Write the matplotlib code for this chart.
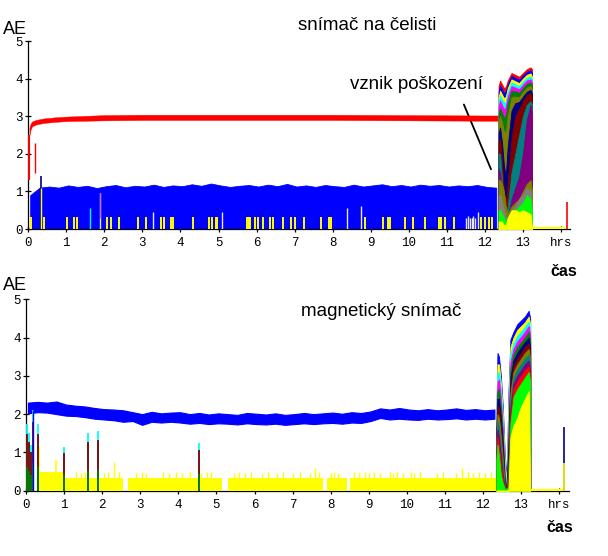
import numpy as np
import matplotlib
matplotlib.use("Agg")
import matplotlib.pyplot as plt

plt.rcParams['font.family'] = ['Liberation Sans', 'DejaVu Sans']

# ---------------------------
# data
# ---------------------------
tick_pos = list(range(14)) + [14]
tick_lab = [str(i) for i in range(14)] + ['hrs']

# top panel (snimac na celisti)
red_x = [0.03, 0.06, 0.1, 0.2, 0.4, 0.7, 1, 1.5, 2, 3, 4, 6, 8, 10, 12, 12.38]
red_lo = [2.48, 2.64, 2.73, 2.78, 2.82, 2.85, 2.87, 2.88, 2.89, 2.90, 2.90, 2.90, 2.90, 2.89, 2.88, 2.88]
red_hi = [2.70, 2.80, 2.86, 2.90, 2.94, 2.97, 2.99, 3.01, 3.03, 3.04, 3.04, 3.04, 3.04, 3.03, 3.02, 3.02]

blue_top_x = np.arange(0, 12.3, 0.25)
blue_top_hi = [0.90, 1.10, 1.13, 1.10, 1.16, 1.12, 1.15, 1.09, 1.14, 1.17,
               1.11, 1.15, 1.13, 1.18, 1.12, 1.16, 1.14, 1.19, 1.15, 1.21,
               1.16, 1.12, 1.15, 1.17, 1.13, 1.18, 1.14, 1.20, 1.13, 1.16,
               1.12, 1.17, 1.14, 1.12, 1.18, 1.13, 1.16, 1.19, 1.14, 1.17,
               1.13, 1.18, 1.15, 1.17, 1.13, 1.16, 1.14, 1.17, 1.12, 1.10]

top_yellow_x = [0.06, 0.42, 1.01, 1.2, 1.28, 2.06, 2.17, 2.38, 2.88, 3.09, 3.49, 3.57,
                3.75, 3.8, 4.32, 4.75, 4.82, 4.93, 4.97, 5.74, 5.77, 5.8, 5.83, 5.96,
                6.05, 6.18, 6.34, 6.42, 6.7, 6.9, 7.0, 7.25, 7.69, 7.9, 7.96, 8.85,
                9.31, 9.45, 9.5, 9.91, 10.12, 10.43, 10.8, 10.86, 10.94, 11.2, 11.9,
                12.0, 12.1, 12.2]
top_grey_x = [1.88, 3.27, 5.1, 8.37, 8.74, 11.5, 11.55, 11.6, 11.65, 11.7, 11.75, 11.82]
top_grey_h = [0.95, 0.45, 0.45, 0.55, 0.6, 0.3, 0.35, 0.3, 0.3, 0.35, 0.3, 0.45]

top_cx = [12.36, 12.40, 12.45, 12.50, 12.55, 12.60, 12.70, 12.80, 12.90, 13.00, 13.10, 13.20, 13.24]
top_curves = [
    ('#ff0000', [3.80, 3.95, 3.85, 3.75, 3.78, 3.95, 4.15, 4.10, 4.05, 4.15, 4.25, 4.30, 4.25]),
    ('#0000ff', [3.65, 3.82, 3.72, 3.62, 3.66, 3.85, 4.07, 4.02, 3.97, 4.08, 4.18, 4.22, 4.15]),
    ('#ffff00', [3.50, 3.68, 3.58, 3.48, 3.52, 3.75, 3.98, 3.93, 3.88, 4.00, 4.10, 4.14, 4.05]),
    ('#00ffff', [3.38, 3.55, 3.45, 3.35, 3.40, 3.65, 3.90, 3.85, 3.80, 3.92, 4.02, 4.06, 3.98]),
    ('#ff00ff', [3.25, 3.42, 3.30, 3.18, 3.25, 3.52, 3.80, 3.76, 3.72, 3.84, 3.95, 3.98, 3.90]),
    ('#008000', [3.05, 3.22, 3.10, 2.95, 3.02, 3.35, 3.68, 3.66, 3.62, 3.75, 3.86, 3.90, 3.80]),
    ('#808000', [2.85, 3.00, 2.85, 2.60, 2.55, 3.00, 3.50, 3.52, 3.50, 3.64, 3.76, 3.80, 3.70]),
    ('#000080', [2.55, 2.70, 2.30, 1.70, 1.40, 2.20, 3.15, 3.35, 3.38, 3.52, 3.65, 3.70, 3.60]),
    ('#800000', [2.30, 2.40, 1.80, 1.00, 0.70, 1.20, 2.40, 3.00, 3.20, 3.40, 3.55, 3.62, 3.50]),
    ('#008080', [2.00, 2.00, 1.30, 0.50, 0.30, 0.60, 1.50, 2.00, 2.50, 3.00, 3.30, 3.40, 3.30]),
    ('#800080', [1.60, 1.50, 0.90, 0.30, 0.20, 0.30, 0.80, 1.10, 1.40, 2.00, 2.90, 3.30, 3.10]),
    ('#808000', [1.30, 1.30, 1.20, 1.00, 0.60, 0.40, 0.60, 0.70, 0.80, 1.00, 1.20, 1.30, 1.00]),
    ('#808080', [0.90, 0.90, 0.70, 0.50, 0.30, 0.30, 0.50, 0.60, 0.80, 0.90, 1.10, 1.00, 0.60]),
    ('#00ff00', [0.50, 0.50, 0.40, 0.30, 0.20, 0.30, 0.40, 0.50, 0.60, 0.70, 0.90, 0.80, 0.40]),
    ('#ffff00', [0.20, 0.20, 0.20, 0.10, 0.10, 0.30, 0.50, 0.50, 0.45, 0.50, 0.45, 0.40, 0.00]),
]

# bottom panel (magneticky snimac)
bb_x = np.arange(0.05, 12.35, 0.25)
bb_hi = [2.30, 2.32, 2.30, 2.33, 2.25, 2.22, 2.20, 2.16, 2.13, 2.12,
         2.10, 2.05, 2.00, 2.06, 2.02, 2.04, 2.05, 2.00, 2.03, 1.99,
         2.02, 2.00, 1.98, 2.03, 2.01, 1.99, 2.02, 1.98, 2.00, 2.03,
         2.00, 2.02, 2.04, 2.01, 2.05, 2.03, 2.07, 2.15, 2.12, 2.16,
         2.12, 2.10, 2.13, 2.10, 2.12, 2.15, 2.11, 2.13, 2.10, 2.12]
bb_lo = [2.02, 2.05, 2.04, 2.00, 1.96, 1.95, 1.92, 1.88, 1.86, 1.84,
         1.80, 1.82, 1.72, 1.80, 1.78, 1.80, 1.78, 1.75, 1.77, 1.74,
         1.76, 1.75, 1.73, 1.76, 1.74, 1.73, 1.75, 1.72, 1.74, 1.76,
         1.74, 1.76, 1.77, 1.75, 1.78, 1.77, 1.82, 1.90, 1.86, 1.88,
         1.86, 1.85, 1.88, 1.86, 1.87, 1.89, 1.86, 1.88, 1.86, 1.88]

yellow_seg = [(0.35, 2.55), (2.68, 5.14), (5.31, 7.8), (7.9, 8.42), (8.52, 12.36)]
yellow_base = 0.32
yellow_spike_x = [1.3, 1.45, 1.55, 2.05, 2.15, 2.3, 2.45, 2.9, 3.05, 3.15, 3.6, 3.75,
                  3.95, 4.1, 4.3, 4.6, 4.75, 4.85, 5.45, 5.6, 5.75, 5.9, 6.2, 6.35,
                  6.6, 6.75, 7.0, 7.2, 7.45, 7.6, 7.7, 8.0, 8.1, 8.2, 8.6, 8.75, 8.9,
                  9.0, 9.15, 9.3, 9.55, 9.65, 9.75, 9.9, 10.1, 10.2, 10.35, 10.8,
                  10.95, 11.3, 11.45, 11.6, 11.75, 11.9, 12.05, 12.2]
yellow_spike_h = [0.5, 0.45, 0.5, 0.45, 0.5, 0.75, 0.5, 0.45, 0.5, 0.45, 0.5, 0.45,
                  0.5, 0.45, 0.5, 0.45, 0.5, 0.5, 0.45, 0.5, 0.45, 0.5, 0.45, 0.5,
                  0.45, 0.5, 0.45, 0.5, 0.45, 0.6, 0.5, 0.45, 0.5, 0.45, 0.5, 0.45,
                  0.5, 0.45, 0.5, 0.45, 0.5, 0.45, 0.5, 0.45, 0.5, 0.45, 0.5, 0.45,
                  0.5, 0.45, 0.6, 0.5, 0.45, 0.5, 0.45, 0.5]
# early multi coloured spikes: x, height
bot_spike_x = [0.03, 0.08, 0.13, 0.18, 0.32, 1.0, 1.64, 1.9, 4.54]
bot_spike_h = [1.75, 1.5, 1.2, 2.1, 1.75, 1.15, 1.5, 1.55, 1.24]

bot_cx = [12.35, 12.38, 12.42, 12.47, 12.52, 12.57, 12.62, 12.67, 12.72, 12.80, 12.90, 13.00, 13.10, 13.20, 13.24]
bot_curves = [
    ('#0000ff', [1.90, 3.60, 3.50, 3.00, 2.20, 1.00, 0.30, 2.60, 3.95, 4.15, 4.35, 4.45, 4.55, 4.70, 4.50]),
    ('#ffff00', [1.80, 3.30, 3.30, 2.80, 2.00, 0.80, 0.20, 2.30, 3.75, 4.00, 4.20, 4.30, 4.40, 4.55, 4.35]),
    ('#00ffff', [1.70, 3.05, 3.10, 2.60, 1.80, 0.60, 0.15, 2.00, 3.55, 3.85, 4.05, 4.15, 4.28, 4.42, 4.20]),
    ('#ff00ff', [1.60, 2.85, 2.90, 2.40, 1.60, 0.40, 0.10, 1.70, 3.35, 3.70, 3.90, 4.02, 4.15, 4.30, 4.05]),
    ('#008000', [1.50, 2.60, 2.65, 2.15, 1.40, 0.30, 0.10, 1.40, 3.15, 3.55, 3.75, 3.88, 4.00, 4.15, 3.90]),
    ('#000080', [1.40, 2.40, 2.40, 1.90, 1.20, 0.20, 0.05, 1.10, 2.95, 3.40, 3.60, 3.75, 3.88, 4.00, 3.75]),
    ('#800000', [1.30, 2.20, 2.15, 1.65, 1.00, 0.15, 0.05, 0.80, 2.75, 3.25, 3.45, 3.60, 3.75, 3.85, 3.60]),
    ('#808000', [1.20, 2.00, 1.90, 1.40, 0.80, 0.10, 0.05, 0.60, 2.55, 3.10, 3.30, 3.45, 3.60, 3.70, 3.45]),
    ('#008080', [1.10, 1.80, 1.65, 1.15, 0.60, 0.10, 0.05, 0.40, 2.35, 2.95, 3.15, 3.30, 3.45, 3.55, 3.30]),
    ('#800080', [1.00, 1.60, 1.40, 0.90, 0.40, 0.05, 0.05, 0.30, 2.15, 2.80, 3.00, 3.15, 3.30, 3.40, 3.15]),
    ('#ff0000', [0.90, 1.40, 1.15, 0.65, 0.30, 0.05, 0.05, 0.20, 1.95, 2.65, 2.85, 3.00, 3.15, 3.25, 3.00]),
    ('#00ff00', [0.80, 1.20, 0.90, 0.40, 0.20, 0.05, 0.05, 0.10, 1.75, 2.45, 2.65, 2.80, 2.95, 3.10, 2.85]),
    ('#ffff00', [0.00, 0.00, 0.00, 0.00, 0.00, 0.00, 0.00, 0.00, 1.40, 1.70, 1.90, 2.20, 2.40, 2.60, 0.00]),
]


def style_axes(ax):
    ax.set_xlim(0, 14.25)
    ax.set_ylim(0, 5)
    for s in ['top', 'right']:
        ax.spines[s].set_visible(False)
    for s in ['left', 'bottom']:
        ax.spines[s].set_linewidth(0.9)
    ax.set_xticks(tick_pos)
    ax.set_xticklabels(tick_lab)
    ax.set_yticks(range(6))
    ax.tick_params(direction='inout', length=5, width=0.9, labelsize=9)
    ax.tick_params(axis='x', pad=3.5)
    ax.tick_params(axis='y', pad=1.5)
    for lab in ax.get_xticklabels() + ax.get_yticklabels():
        lab.set_family('Liberation Mono')


fig = plt.figure(figsize=(6.08, 5.56), dpi=100)

# --------- top panel ---------
ax1 = fig.add_axes([0.0465, 0.5881, 0.8918, 0.3381])
style_axes(ax1)

ax1.fill_between(blue_top_x + 0.05, 0, blue_top_hi, color='#0000ff', lw=0.6, zorder=2)
ax1.vlines(0.33, 0, 1.4, color='#000080', lw=1.2, zorder=3)
ax1.vlines(top_yellow_x, 0, 0.32, color='#ffff00', lw=1.4, zorder=3)
ax1.vlines(top_grey_x, 0, top_grey_h, color='#e8e8e8', lw=1.0, zorder=3)
ax1.vlines([0.33], 0, 1.1, color='#ffff00', lw=1.0, zorder=3)
ax1.vlines([1.62], 0, 0.55, color='#00ffff', lw=1.0, zorder=3)
ax1.vlines([1.88], 0.3, 0.95, color='#cc66cc', lw=0.8, zorder=3)

ax1.fill_between(red_x, red_lo, red_hi, color='#ff0000', lw=0.3, zorder=4)
ax1.vlines(0.01, 1.3, 2.5, color='#ff0000', lw=1.5, zorder=4)
ax1.vlines(0.17, 1.5, 2.3, color='#ff0000', lw=1.0, zorder=4)

for col, vals in top_curves:
    ax1.fill_between(top_cx, 0, vals, color=col, lw=0.6, zorder=5)

ax1.hlines(0.03, 13.25, 14.1, color='#ffff00', lw=1.5, zorder=5)
ax1.vlines(14.16, 0, 0.73, color='#ff0000', lw=1.2, zorder=5)

ax1.annotate('', xy=(12.19, 1.52), xytext=(11.42, 3.38),
             arrowprops=dict(arrowstyle='-', color='black', lw=1.3))

# --------- bottom panel ---------
ax2 = fig.add_axes([0.0428, 0.1175, 0.8925, 0.3442])
style_axes(ax2)

ax2.fill_between(bb_x, bb_lo, bb_hi, color='#0000ff', lw=0.8, zorder=2)

for a, b in yellow_seg:
    ax2.fill_between([a, b], 0, yellow_base, color='#ffff00', lw=0, zorder=3)
ax2.fill_between([0.37, 1.0], 0, 0.5, color='#ffff00', lw=0, zorder=3)
ax2.vlines(yellow_spike_x, 0, yellow_spike_h, color='#ffff00', lw=1.0, zorder=3)
ax2.vlines([0.35, 0.8, 1.0], 0, [1.15, 0.8, 1.15], color='#ffff00', lw=1.2, zorder=3)

for xs, h in zip(bot_spike_x, bot_spike_h):
    ax2.vlines(xs, 0, h, color='#00ffff', lw=1.3, zorder=4)
    ax2.vlines(xs, 0, h * 0.85, color='#800000', lw=1.3, zorder=4)
    ax2.vlines(xs, 0, h * 0.35, color='#008000', lw=1.3, zorder=4)
ax2.vlines(0.18, 0, 2.1, color='#0000ff', lw=1.0, zorder=4)

for col, vals in bot_curves:
    ax2.fill_between(bot_cx, 0, vals, color=col, lw=0.6, zorder=5)

ax2.hlines(0.02, 13.25, 14.13, color='#ffff00', lw=1.5, zorder=5)
ax2.vlines(14.13, 0, 1.66, color='#000080', lw=1.2, zorder=5)
ax2.vlines(14.13, 0, 0.72, color='#ffff00', lw=1.2, zorder=6)

# --------- texts ---------
W, H = 608, 556
def ftext(x, y, s, **kw):
    fig.text(x / W, 1 - y / H, s, ha='center', va='center', **kw)

ftext(15, 29, 'AE', fontsize=13)
ftext(367, 26, 'snímač na čelisti', fontsize=13.5)
ftext(416, 85, 'vznik poškození', fontsize=13.5)
ftext(564, 271, 'čas', fontsize=11.5, fontweight='bold')
ftext(15, 285, 'AE', fontsize=13)
ftext(381, 312, 'magnetický snímač', fontsize=13.5)
ftext(560, 527, 'čas', fontsize=11.5, fontweight='bold')

fig.savefig('out.png', dpi=100)
